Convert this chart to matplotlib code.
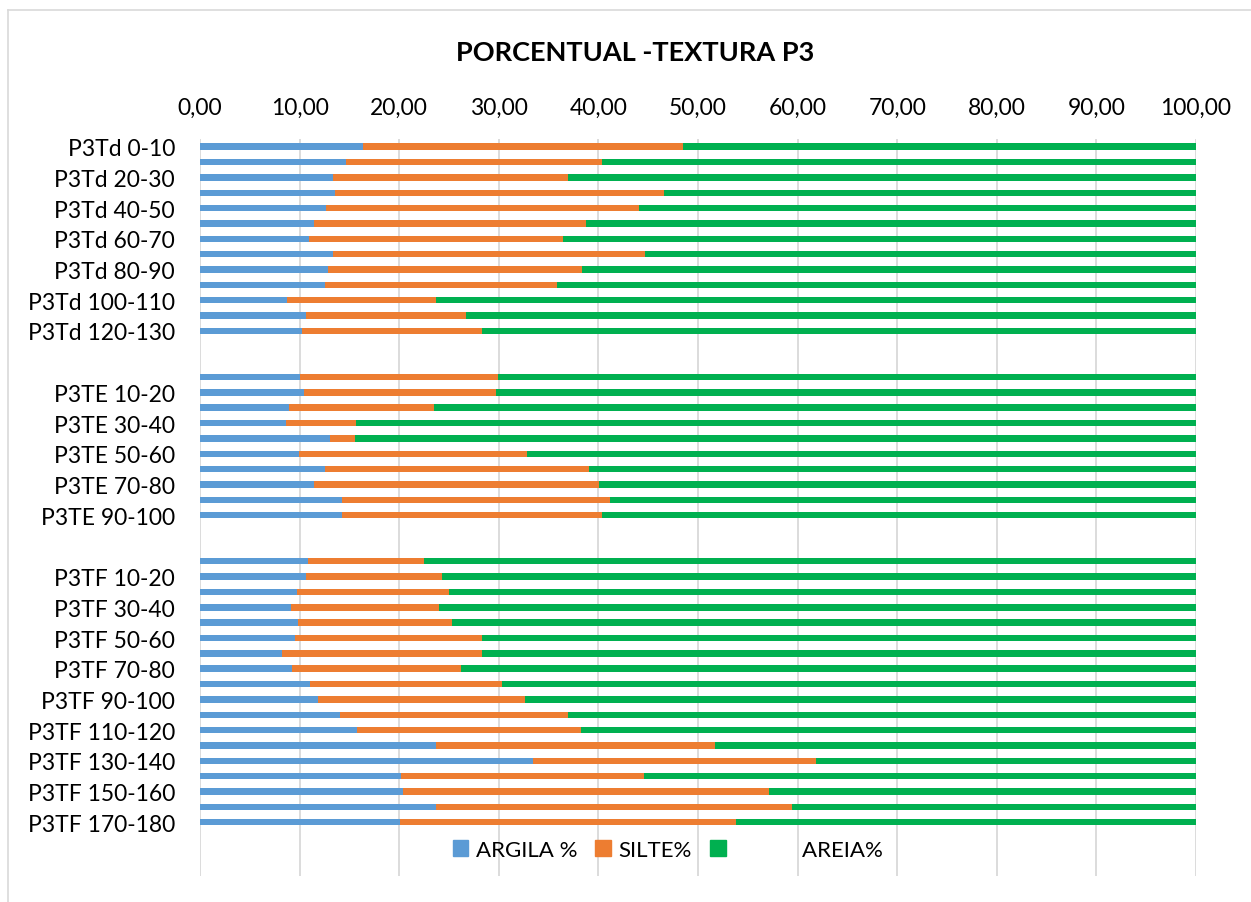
import matplotlib.pyplot as plt
from matplotlib.lines import Line2D
from matplotlib.patches import Patch
from matplotlib.ticker import FuncFormatter

plt.rcParams['font.family'] = ['Lato', 'DejaVu Sans']

# --- Textura P3 (%), por profundidade
td_labels = ['P3Td 0-10', 'P3Td 10-20', 'P3Td 20-30', 'P3Td 30-40', 'P3Td 40-50',
             'P3Td 50-60', 'P3Td 60-70', 'P3Td 70-80', 'P3Td 80-90', 'P3Td 90-100',
             'P3Td 100-110', 'P3Td 110-120', 'P3Td 120-130']
td_argila = [16.4, 14.7, 13.4, 13.6, 12.7, 11.4, 10.9, 13.4, 12.9, 12.5, 8.7, 10.6, 10.2]
td_silte = [32.1, 25.7, 23.5, 33.0, 31.4, 27.4, 25.5, 31.3, 25.5, 23.3, 15.0, 16.1, 18.1]
td_areia = [51.5, 59.6, 63.1, 53.4, 55.9, 61.2, 63.6, 55.3, 61.6, 64.2, 76.3, 73.3, 71.7]

te_labels = ['P3TE 0-10', 'P3TE 10-20', 'P3TE 20-30', 'P3TE 30-40', 'P3TE 40-50',
             'P3TE 50-60', 'P3TE 60-70', 'P3TE 70-80', 'P3TE 80-90', 'P3TE 90-100']
te_argila = [10.0, 10.4, 8.9, 8.6, 13.1, 9.9, 12.6, 11.4, 14.3, 14.3]
te_silte = [19.9, 19.3, 14.6, 7.1, 2.5, 22.9, 26.5, 28.7, 26.9, 26.1]
te_areia = [70.1, 70.3, 76.5, 84.3, 84.4, 67.2, 60.9, 59.9, 58.8, 59.6]

tf_labels = ['P3TF 0-10', 'P3TF 10-20', 'P3TF 20-30', 'P3TF 30-40', 'P3TF 40-50',
             'P3TF 50-60', 'P3TF 60-70', 'P3TF 70-80', 'P3TF 80-90', 'P3TF 90-100',
             'P3TF 100-110', 'P3TF 110-120', 'P3TF 120-130', 'P3TF 130-140',
             'P3TF 140-150', 'P3TF 150-160', 'P3TF 160-170', 'P3TF 170-180']
tf_argila = [10.8, 10.6, 9.7, 9.1, 9.8, 9.5, 8.2, 9.2, 11.0, 11.8, 14.1, 15.8,
             23.7, 33.4, 20.2, 20.4, 23.7, 20.1]
tf_silte = [11.7, 13.7, 15.3, 14.9, 15.5, 18.8, 20.1, 17.0, 19.3, 20.8, 22.8, 22.5,
            28.0, 28.4, 24.4, 36.7, 35.7, 33.7]
tf_areia = [77.5, 75.7, 75.0, 76.0, 74.7, 71.7, 71.7, 73.8, 69.7, 67.4, 63.1, 61.7,
            48.3, 38.2, 55.4, 42.9, 40.6, 46.2]

AZUL = '#5B9BD5'
LARANJA = '#ED7D31'
VERDE = '#00B050'

# two empty rows between each profile, three at the end
n_gap = 2
n_end = 3
groups = [(td_labels, td_argila, td_silte, td_areia),
          (te_labels, te_argila, te_silte, te_areia),
          (tf_labels, tf_argila, tf_silte, tf_areia)]

labels, pos, argila, silte, areia = [], [], [], [], []
row = 0
for i, (lab, a, s, r) in enumerate(groups):
    if i > 0:
        for _ in range(n_gap):
            labels.append('')
            row += 1
    for j in range(len(lab)):
        labels.append(lab[j])
        pos.append(row)
        argila.append(a[j])
        silte.append(s[j])
        areia.append(r[j])
        row += 1
n_rows = row + n_end

fig = plt.figure(figsize=(12.51, 9.03), dpi=100)
W, H = 1251, 903
ax = fig.add_axes([200 / W, 1 - 877 / H, 996 / W, (877 - 140) / H])

h = 0.42
base2 = [a + s for a, s in zip(argila, silte)]
ax.barh(pos, argila, height=h, color=AZUL, label='ARGILA %')
ax.barh(pos, silte, left=argila, height=h, color=LARANJA, label='SILTE%')
ax.barh(pos, areia, left=base2, height=h, color=VERDE, label='AREIA%')

ax.set_xlim(0, 100)
ax.set_ylim(n_rows - 0.5, -0.5)
ax.set_xticks(range(0, 101, 10))
ax.xaxis.set_major_formatter(FuncFormatter(lambda v, p: f'{v:.2f}'.replace('.', ',')))
ax.xaxis.tick_top()
ax.grid(axis='x', color='#D9D9D9', linewidth=1.3)
ax.set_axisbelow(True)
for sp in ax.spines.values():
    sp.set_visible(False)

# every other category gets a label
tick_rows = list(range(0, len(labels), 2))
ax.set_yticks(tick_rows)
ax.set_yticklabels([labels[t] for t in tick_rows])
ax.tick_params(axis='both', length=0, labelsize=16.5, colors='black')
ax.tick_params(axis='y', pad=18)
ax.tick_params(axis='x', pad=15)

fig.text(0.508, 1 - 53 / H, 'PORCENTUAL -TEXTURA P3', ha='center', va='center',
         fontsize=19.5, fontweight='bold')

handles = [Patch(color=AZUL), Patch(color=LARANJA), Patch(color=VERDE)]
leg = fig.legend(handles, ['ARGILA %', 'SILTE%', '            AREIA%'],
                 loc='center', bbox_to_anchor=(668 / W, 1 - 851 / H), ncol=3,
                 frameon=False, fontsize=16, handlelength=0.7, handleheight=0.7,
                 handletextpad=0.35, columnspacing=0.8)

# chart frame (left and top edges)
fig.add_artist(Line2D([8 / W, 8 / W], [0, 1 - 11 / H], color='#D9D9D9', lw=1.2,
                      transform=fig.transFigure))
fig.add_artist(Line2D([8 / W, 1], [1 - 11 / H, 1 - 11 / H], color='#D9D9D9', lw=1.2,
                      transform=fig.transFigure))

fig.savefig('out.png', dpi=100)
